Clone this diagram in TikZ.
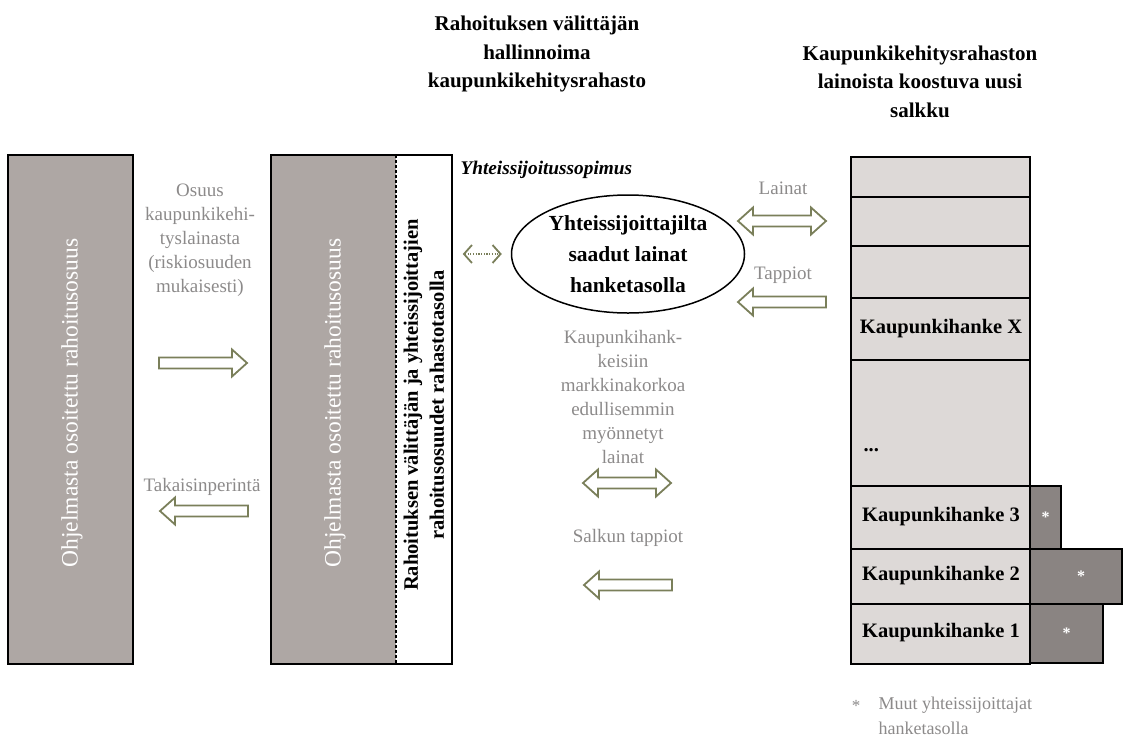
\documentclass[tikz,border=0pt]{standalone}
\usepackage{fontspec}
\setmainfont{Liberation Serif}
\usetikzlibrary{arrows.meta,positioning,shapes.geometric}

\definecolor{progfill}{RGB}{174,167,164}
\definecolor{salkkufill}{RGB}{221,217,215}
\definecolor{sidefill}{RGB}{138,132,130}
\definecolor{labelgray}{RGB}{140,138,138}
\definecolor{arrowolive}{RGB}{122,127,90}

\tikzset{
	progbox/.style={draw=black, line width=1.5pt, fill=progfill},
	whitetxt/.style={text=white, font=\fontsize{23.5}{26}\selectfont},
	fundtxt/.style={font=\bfseries\fontsize{20.5}{26}\selectfont, align=center},
	graylabel/.style={text=labelgray, font=\fontsize{19}{24}\selectfont, align=center},
	heading/.style={font=\bfseries\fontsize{21}{28.5}\selectfont, align=center},
	hanke/.style={font=\bfseries\fontsize{20.5}{24}\selectfont},
	rowbox/.style={draw=black, line width=1.5pt, fill=salkkufill},
	sidebox/.style={draw=black, line width=1.2pt, fill=sidefill},
	blockarrow/.style={draw=arrowolive, line width=1.8pt, fill=white, line join=miter},
	dotarrow/.style={draw=arrowolive, line width=1.2pt, dash pattern=on 1.2pt off 1.5pt,
		{Straight Barb[length=8pt,width=18pt,line width=1.8pt,sep=0pt]}-{Straight Barb[length=8pt,width=18pt,line width=1.8pt]}},
	pics/rblock/.style={code={
		\draw[blockarrow] (-44,-5.5) -- (29,-5.5) -- (29,-13.5) -- (44,0) -- (29,13.5) -- (29,5.5) -- (-44,5.5) -- cycle;}},
	pics/lblock/.style={code={
		\draw[blockarrow] (44,-5.5) -- (-29,-5.5) -- (-29,-13.5) -- (-44,0) -- (-29,13.5) -- (-29,5.5) -- (44,5.5) -- cycle;}},
	pics/dblock/.style={code={
		\draw[blockarrow] (-44,0) -- (-29,-13.5) -- (-29,-5.5) -- (29,-5.5) -- (29,-13.5) -- (44,0) -- (29,13.5) -- (29,5.5) -- (-29,5.5) -- (-29,13.5) -- cycle;}},
}

\begin{document}
\begin{tikzpicture}[x=1pt,y=-1pt]
	\useasboundingbox (0,0) rectangle (1123,736);

	% headings
	\node[heading] (fundhead) at (537,54) {Rahoituksen välittäjän\\hallinnoima\\kaupunkikehitysrahasto};
	\node[heading] (salkkuhead) at (920,81.5) {Kaupunkikehitysrahaston\\lainoista koostuva uusi\\salkku};

	% ohjelman osuus
	\node[progbox, minimum width=125, minimum height=509, inner sep=0] (prog) at (70.5,409.5) {};
	\node[whitetxt, rotate=90] (progtxt) at (72,403) {Ohjelmasta osoitettu rahoitusosuus};

	% rahasto
	\fill[progfill] (271,155) rectangle (396,664);
	\node[draw=black, line width=1.5pt, minimum width=181, minimum height=509, inner sep=0] (fund) at (361.5,409.5) {};
	\draw[line width=1.2pt, dash pattern=on 3pt off 2pt] (396,155) -- (396,664);
	\node[whitetxt, rotate=90] (fundprog) at (335,403) {Ohjelmasta osoitettu rahoitusosuus};
	\node[fundtxt, rotate=90] (fundco) at (424,405) {Rahoituksen välittäjän ja yhteissijoittajien\\rahoitusosuudet rahastotasolla};

	% virrat ohjelman ja rahaston valilla
	\node[graylabel] (osuuslbl) at (200,240) {Osuus\\kaupunkikehi-\\tyslainasta\\(riskiosuuden\\mukaisesti)};
	\pic at (203,363) {rblock};
	\node[graylabel] (takaisinlbl) at (202,487) {Takaisinperintä};
	\pic at (204,511) {lblock};

	% yhteissijoitus
	\node[font=\bfseries\itshape\fontsize{19.3}{21}\selectfont, anchor=west] (sopimus) at (457,170) {Yhteissijoitussopimus};
	\node[draw=black, line width=1.5pt, ellipse, minimum width=233, minimum height=118, inner sep=0,
		font=\bfseries\fontsize{21.5}{31}\selectfont, align=center] (coinv) at (628,254) {Yhteissijoittajilta\\saadut lainat\\hanketasolla};
	\draw[dotarrow, shorten <=10pt, shorten >=9pt] (fund.east |- coinv.west) -- (coinv.west);

	\node[graylabel] (hanklbl) at (623,397) {Kaupunkihank-\\keisiin\\markkinakorkoa\\edullisemmin\\myönnetyt\\lainat};
	\pic at (627,483) {dblock};
	\node[graylabel] (salkkulbl) at (628,538) {Salkun tappiot};
	\pic at (628,585) {lblock};

	\node[graylabel] (lainatlbl) at (783,188) {Lainat};
	\pic at (782,221) {dblock};
	\node[graylabel] (tappiotlbl) at (783,275) {Tappiot};
	\pic at (782,302) {lblock};

	% salkku
	\foreach \ya/\yb in {157/197,197/246,246/298,298/360,360/486,486/549,549/604,604/664}
		\draw[rowbox] (851,\ya) rectangle (1030,\yb);
	\node[hanke] (hankex) at (941,329) {Kaupunkihanke X};
	\node[hanke, anchor=west] (hankedots) at (860,450) {...};
	\node[hanke] (hanke3) at (941,517) {Kaupunkihanke 3};
	\node[hanke] (hanke2) at (941,576) {Kaupunkihanke 2};
	\node[hanke] (hanke1) at (941,633) {Kaupunkihanke 1};

	% muut yhteissijoittajat
	\draw[sidebox] (1030,486) rectangle (1061,549) node[midway, text=white, font=\bfseries\fontsize{16}{16}\selectfont] (co3) {*};
	\draw[sidebox] (1030,549) rectangle (1122,604) node[midway, xshift=5, text=white, font=\bfseries\fontsize{16}{16}\selectfont] (co2) {*};
	\draw[sidebox] (1030,604) rectangle (1103,663) node[midway, text=white, font=\bfseries\fontsize{16}{16}\selectfont] (co1) {*};

	\node[graylabel, font=\fontsize{17}{17}\selectfont] (notestar) at (856,706) {*};
	\node[graylabel, font=\fontsize{18}{25}\selectfont, align=left, anchor=west] (note) at (875,715.5) {Muut yhteissijoittajat\\hanketasolla};
\end{tikzpicture}
\end{document}
